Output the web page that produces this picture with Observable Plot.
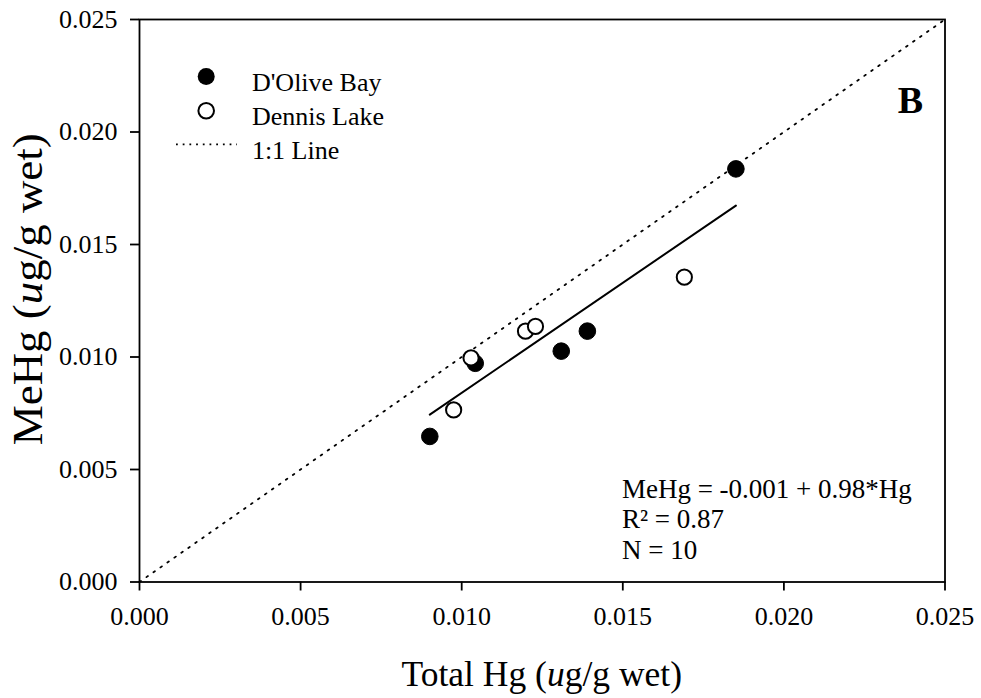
<!DOCTYPE html>
<html><head><meta charset="utf-8">
<script src="https://cdn.jsdelivr.net/npm/d3@7"></script>
<script src="https://cdn.jsdelivr.net/npm/@observablehq/plot@0.6"></script>
<style>body{margin:0;background:#fff}</style>
</head><body><div id="chart"></div>
<script>
// D'Olive Bay (filled)
const dolHg   = [0.00901, 0.01042, 0.01309, 0.01390, 0.01851];
const dolMeHg = [0.00647, 0.00972, 0.01026, 0.01115, 0.01836];
// Dennis Lake (open)
const denHg   = [0.00975, 0.01029, 0.01198, 0.01229, 0.01691];
const denMeHg = [0.00765, 0.00996, 0.01115, 0.01136, 0.01355];

const xTicks = [0, 0.005, 0.010, 0.015, 0.020, 0.025];
const yTicks = [0, 0.005, 0.010, 0.015, 0.020, 0.025];
const identityLine = [0, 0.025];
const legendLabels = ["D'Olive Bay", "Dennis Lake", "1:1 Line"];
const equationLines = ["MeHg = -0.001 + 0.98*Hg", "R\u00B2 = 0.87", "N = 10"];
const panelLabel = "B";

const dol = dolHg.map((x, i) => ({x, y: dolMeHg[i]}));
const den = denHg.map((x, i) => ({x, y: denMeHg[i]}));
const all = dol.concat(den);

const FONT = "'Liberation Serif', 'Times New Roman', serif";

const chart = Plot.plot({
  width: 981, height: 698,
  marginLeft: 139, marginRight: 36.5, marginTop: 19, marginBottom: 116.5,
  style: {fontFamily: FONT, background: "#fff", color: "#000"},
  x: {domain: [0, 0.025]},
  y: {domain: [0, 0.025]},
  marks: [
    Plot.line(identityLine, {x: d => d, y: d => d, stroke: "#000", strokeWidth: 1.8, strokeDasharray: "1.8 6.7"}),
    Plot.linearRegressionY(all, {x: "x", y: "y", ci: 0, stroke: "#000", strokeWidth: 2}),
    Plot.dot(dol, {x: "x", y: "y", r: 8.3, fill: "#000", stroke: "#000", strokeWidth: 1}),
    Plot.dot(den, {x: "x", y: "y", r: 7.6, fill: "#fff", stroke: "#000", strokeWidth: 2}),
    Plot.axisX({ticks: xTicks, tickFormat: d3.format(".3f"), tickSize: 9, tickPadding: 16, fontSize: 26, fontFamily: FONT, label: null, strokeWidth: 1.8}),
    Plot.axisY({ticks: yTicks, tickFormat: d3.format(".3f"), tickSize: 9, tickPadding: 13, fontSize: 26, fontFamily: FONT, label: null, strokeWidth: 1.8}),
    Plot.frame({stroke: "#000", strokeWidth: 1.8}),
    // legend symbols
    Plot.dot([legendLabels[0]], {frameAnchor: "top-left", dx: 66.7, dy: 57, r: 8.5, fill: "#000"}),
    Plot.dot([legendLabels[1]], {frameAnchor: "top-left", dx: 66.7, dy: 91.3, r: 7.8, fill: "#fff", stroke: "#000", strokeWidth: 2}),
    Plot.text([legendLabels.join("\n")], {frameAnchor: "top-left", dx: 112.4, dy: 47.5, textAnchor: "start", lineAnchor: "top", lineHeight: 1.31, fontSize: 26, fontFamily: FONT}),
    Plot.text([equationLines.join("\n")], {frameAnchor: "top-left", dx: 482.4, dy: 456.8, textAnchor: "start", lineAnchor: "top", lineHeight: 1.13, fontSize: 27, fontFamily: FONT}),
    Plot.text([panelLabel], {frameAnchor: "top-right", dx: -22, dy: 67, textAnchor: "end", lineAnchor: "top", fontSize: 38, fontWeight: "bold", fontFamily: FONT})
  ]
});

document.getElementById("chart").appendChild(chart);

const svg = d3.select(chart);
const xs = chart.scale("x"), ys = chart.scale("y");
const cx = (xs.range[0] + xs.range[1]) / 2;
const cy = (ys.range[0] + ys.range[1]) / 2;

// legend dotted line
svg.append("line")
  .attr("x1", xs.range[0] + 37).attr("x2", xs.range[0] + 98)
  .attr("y1", ys.range[1] + 125.3).attr("y2", ys.range[1] + 125.3)
  .attr("stroke", "#000").attr("stroke-width", 1.8).attr("stroke-dasharray", "1.8 4.9");

// x title
const xt = svg.append("text")
  .attr("x", cx).attr("y", 686)
  .attr("text-anchor", "middle").attr("font-family", FONT).attr("font-size", 35.5).attr("fill", "#000");
xt.append("tspan").text("Total Hg (");
xt.append("tspan").attr("font-style", "italic").text("u");
xt.append("tspan").text("g/g wet)");

// y title
const yt = svg.append("text")
  .attr("transform", `translate(41.7, ${cy - 11}) rotate(-90) scale(1.07, 1)`)
  .attr("text-anchor", "middle").attr("font-family", FONT).attr("font-size", 42).attr("fill", "#000");
yt.append("tspan").text("MeHg (");
yt.append("tspan").attr("font-style", "italic").text("u");
yt.append("tspan").text("g/g wet)");
</script>
</body></html>
